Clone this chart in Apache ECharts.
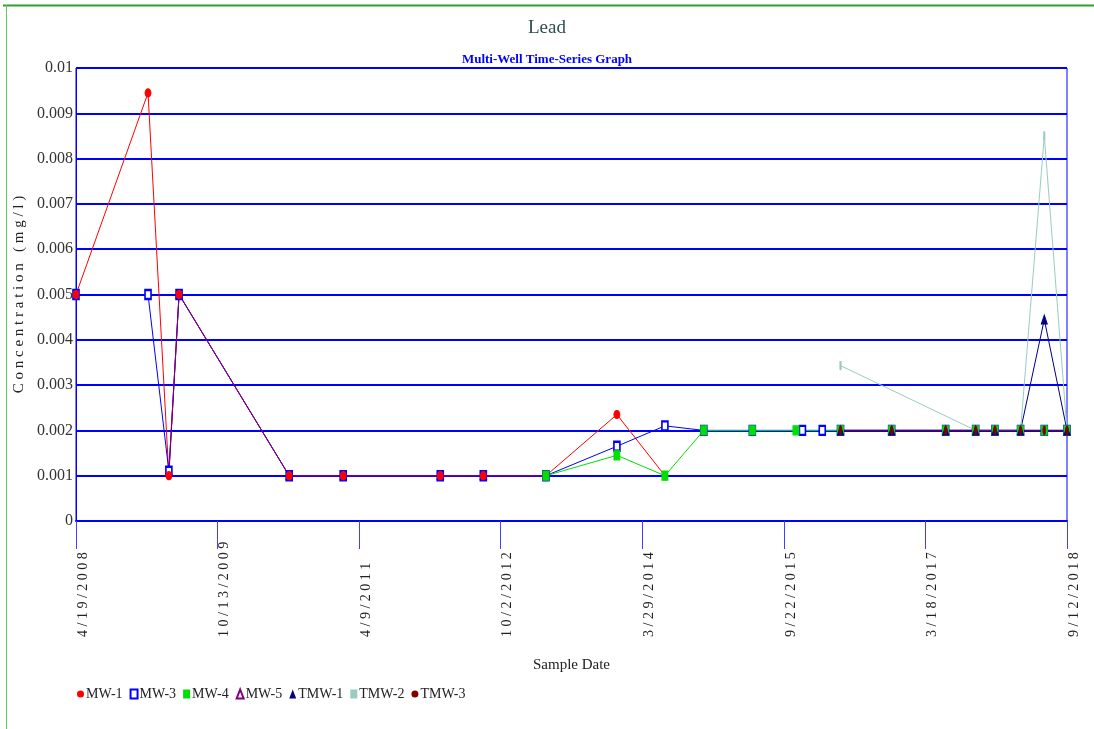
<!DOCTYPE html>
<html>
<head>
<meta charset="utf-8">
<script src="https://cdn.jsdelivr.net/npm/echarts@6/dist/echarts.min.js"></script>
<style>
html,body{margin:0;padding:0;background:#fff;}
#chart{width:1094px;height:729px;}
</style>
</head>
<body>
<div id="chart"></div>
<script>
// ---- data ----
const tickLabels = ["4/19/2008","10/13/2009","4/9/2011","10/2/2012","3/29/2014","9/22/2015","3/18/2017","9/12/2018"];
const startDate = "2008-04-19";
const endDate = "2018-09-12";

const mw1Dates  = ["2008-04-19","2009-01-20","2009-04-10","2009-05-19","2010-07-15","2011-02-07","2012-02-14","2012-07-28","2013-03-25","2013-12-22","2014-06-24"];
const mw1Values = [0.005,0.00945,0.001,0.005,0.001,0.001,0.001,0.001,0.001,0.00235,0.001];

const mw3Dates  = ["2008-04-19","2009-01-20","2009-04-10","2009-05-19","2010-07-15","2011-02-07","2012-02-14","2012-07-28","2013-03-25","2013-12-22","2014-06-24","2014-11-20","2015-05-25","2015-12-03","2016-02-17","2016-04-27","2016-11-09","2017-06-04","2017-09-27","2017-12-10","2018-03-18","2018-06-17","2018-09-12"];
const mw3Values = [0.005,0.005,0.0011,0.005,0.001,0.001,0.001,0.001,0.001,0.00165,0.0021,0.002,0.002,0.002,0.002,0.002,0.002,0.002,0.002,0.002,0.002,0.002,0.002];

const mw4Dates  = ["2013-03-25","2013-12-22","2014-06-24","2014-11-20","2015-05-25","2015-11-08","2016-04-27","2016-11-09","2017-06-04","2017-09-27","2017-12-10","2018-03-18","2018-06-17","2018-09-12"];
const mw4Values = [0.001,0.00145,0.001,0.002,0.002,0.002,0.002,0.002,0.002,0.002,0.002,0.002,0.002,0.002];

const mw5Dates  = ["2009-04-10","2009-05-19","2010-07-15","2011-02-07","2012-02-14","2012-07-28","2013-03-25","2016-04-27","2016-04-27","2016-11-09","2017-06-04","2017-09-27","2017-12-10","2018-03-18","2018-06-17","2018-09-12"];
const mw5Values = [0.0011,0.005,0.001,0.001,0.001,0.001,0.001,null,0.002,0.002,0.002,0.002,0.002,0.002,0.002,0.002];

const tmw1Dates  = ["2016-04-27","2016-11-09","2017-06-04","2017-09-27","2017-12-10","2018-03-18","2018-06-17","2018-09-12"];
const tmw1Values = [0.002,0.002,0.002,0.002,0.002,0.002,0.00445,0.002];

const tmw2Dates  = ["2016-04-27","2017-09-27","2017-12-10","2018-03-18","2018-06-17","2018-09-12"];
const tmw2Values = [0.00343,0.002,0.002,0.002,0.0085,0.002];

const tmw3Dates  = ["2016-04-27","2016-11-09","2017-06-04","2017-09-27","2017-12-10","2018-03-18","2018-06-17","2018-09-12"];
const tmw3Values = [0.002,0.002,0.002,0.002,0.002,0.002,0.002,0.002];

// ---- helpers ----
const DAY = 86400000;
// x unit = 1/7 day, so the 7 equal tick intervals are whole numbers
function xOf(d){ return Math.round((Date.parse(d) - Date.parse(startDate)) / DAY) * 7; }
const xMax = xOf(endDate);
const xInterval = xMax / 7;
function pairs(dates, values){
  return dates.map((d,i)=> values[i] === null ? [xOf(d), '-'] : [xOf(d), values[i]]);
}

const serif = "'Liberation Serif','DejaVu Serif',serif";

// wells: name, dates, values, colour, marker, marker size, marker layer
const wells = [
  ['MW-1', mw1Dates, mw1Values, '#FF0000', 'circle', [6,8], 9],
  ['MW-3', mw3Dates, mw3Values, '#0000FF', 'emptyRect', [6,9], 6],
  ['MW-4', mw4Dates, mw4Values, '#00E000', 'rect', [6,9], 10],
  ['MW-5', mw5Dates, mw5Values, '#800080', 'emptyTriangle', [5,6], 5],
  ['TMW-1', tmw1Dates, tmw1Values, '#000080', 'triangle', [6,9], 11],
  ['TMW-2', tmw2Dates, tmw2Values, '#99CCC0', 'rect', [1.5,7], 10],
  ['TMW-3', tmw3Dates, tmw3Values, '#800000', 'circle', [3,8], 11]
];

const series = [];
wells.forEach(function(w, i){
  series.push({
    name: w[0], type: 'line', data: pairs(w[1], w[2]),
    symbol: 'none', connectNulls: false, animation: false, z: 2 + i * 0.01,
    lineStyle: {color: w[3], width: 1},
    itemStyle: {color: w[3]},
    emphasis: {disabled: true}
  });
});
wells.forEach(function(w){
  series.push({
    name: w[0], type: 'scatter', data: pairs(w[1], w[2]),
    symbol: w[4], symbolSize: w[5], animation: false, z: w[6],
    itemStyle: {color: w[3], borderColor: w[3], borderWidth: 1, opacity: 1},
    emphasis: {disabled: true}
  });
});

const chart = echarts.init(document.getElementById('chart'), null, {renderer: 'canvas'});
chart.setOption({
  animation: false,
  backgroundColor: '#fff',
  title: [
    {text: 'Lead', left: 'center', top: 14, textStyle: {fontFamily: serif, fontSize: 19, fontWeight: 'normal', color: '#2F4F4F'}},
    {text: 'Multi-Well Time-Series Graph', left: 'center', top: 48, textStyle: {fontFamily: serif, fontSize: 13, fontWeight: 'bold', color: '#0000FF'}}
  ],
  graphic: [
    {type: 'line', shape: {x1: 3, y1: 5.5, x2: 1094, y2: 5.5}, style: {stroke: '#2E9E2E', lineWidth: 2}},
    {type: 'line', shape: {x1: 6.5, y1: 5, x2: 6.5, y2: 729}, style: {stroke: '#66C266', lineWidth: 1}}
  ],
  legend: {
    left: 72, top: 682,
    itemWidth: 7, itemHeight: 9, itemGap: 7,
    textStyle: {fontFamily: serif, fontSize: 14, color: '#222', padding: [0,0,0,-3]},
    data: [
      {name: 'MW-1', icon: 'circle'},
      {name: 'MW-3', icon: 'emptyRect'},
      {name: 'MW-4', icon: 'rect'},
      {name: 'MW-5', icon: 'emptyTriangle'},
      {name: 'TMW-1', icon: 'triangle'},
      {name: 'TMW-2', icon: 'rect'},
      {name: 'TMW-3', icon: 'circle'}
    ]
  },
  grid: {left: 76, right: 27, top: 68, bottom: 208, show: true, borderColor: '#0000FF', borderWidth: 1, backgroundColor: 'transparent'},
  xAxis: {
    type: 'value', min: 0, max: xMax, interval: xInterval,
    name: 'Sample Date', nameLocation: 'middle', nameGap: 137,
    nameTextStyle: {fontFamily: serif, fontSize: 15, color: '#222'},
    axisLine: {show: true, onZero: false, lineStyle: {color: '#0000FF', width: 2}},
    axisTick: {show: true, length: 28, lineStyle: {color: '#4040FF', width: 1}},
    splitLine: {show: false},
    axisLabel: {
      rotate: 90, align: 'left', verticalAlign: 'top', margin: 116,
      fontFamily: serif, fontSize: 14, color: '#222',
      showMinLabel: true, showMaxLabel: true,
      formatter: function(v){
        const i = Math.round(v / xInterval);
        return (tickLabels[i] || '').split('').join(' ');
      }
    }
  },
  yAxis: {
    type: 'value', min: 0, max: 0.01, interval: 0.001,
    name: 'C o n c e n t r a t i o n   ( m g / l )', nameLocation: 'middle', nameGap: 47, nameRotate: 90,
    nameTextStyle: {fontFamily: serif, fontSize: 15, color: '#222'},
    axisLine: {show: true, lineStyle: {color: '#0000FF', width: 1}},
    axisTick: {show: false},
    splitLine: {show: true, lineStyle: {color: '#0000FF', width: 2}},
    axisLabel: {fontFamily: serif, fontSize: 16, color: '#333', margin: 3}
  },
  series: series
});
</script>
</body>
</html>
